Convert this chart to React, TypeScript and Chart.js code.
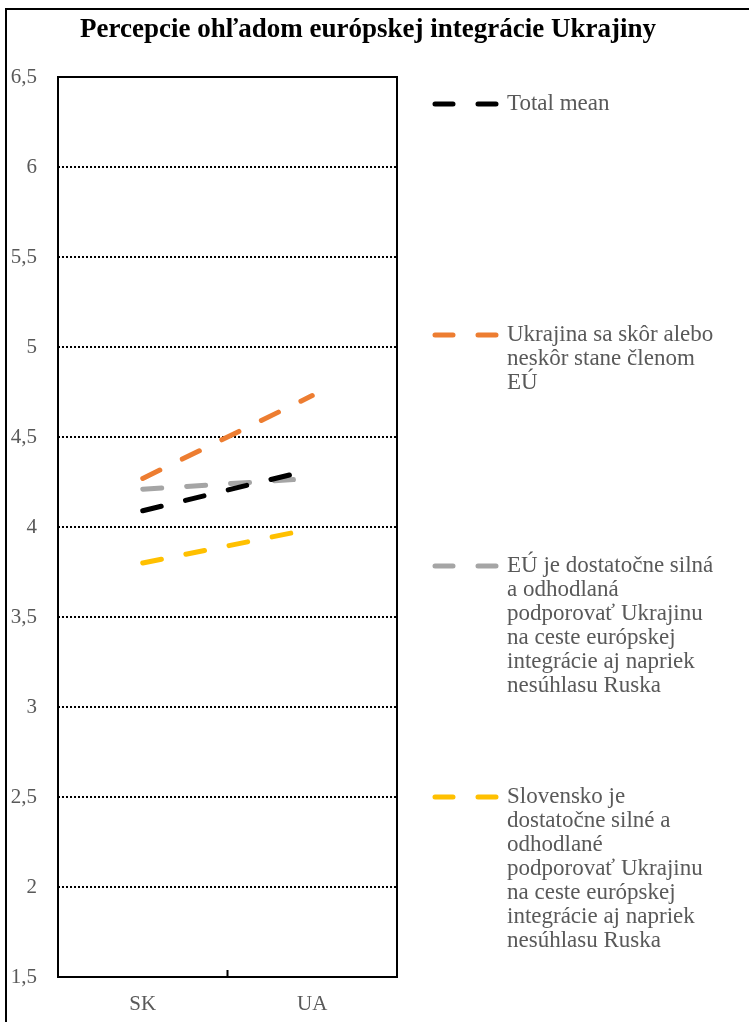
import React, { useEffect, useRef } from "react";
import { Chart, registerables } from "chart.js";

Chart.register(...registerables);

const title = "Percepcie ohľadom európskej integrácie Ukrajiny";
const categories = ["SK", "UA"];
const totalMean = [4.09, 4.32];
const ukraineMember = [4.27, 4.73];
const euStrong = [4.21, 4.27];
const slovakiaStrong = [3.8, 3.99];

const totalMeanName = ["Total mean"];
const ukraineMemberName = ["Ukrajina sa skôr alebo", "neskôr stane členom", "EÚ"];
const euStrongName = [
  "EÚ je dostatočne silná",
  "a odhodlaná",
  "podporovať Ukrajinu",
  "na ceste európskej",
  "integrácie aj napriek",
  "nesúhlasu Ruska",
];
const slovakiaStrongName = [
  "Slovensko je",
  "dostatočne silné a",
  "odhodlané",
  "podporovať Ukrajinu",
  "na ceste európskej",
  "integrácie aj napriek",
  "nesúhlasu Ruska",
];

const yMin = 1.5;
const yMax = 6.5;
const yStep = 0.5;

const FONT = "'Liberation Serif', 'DejaVu Serif', serif";
const TEXT_GRAY = "#595959";
const DASH = [19, 25];

export default function App() {
  const canvasRef = useRef<HTMLCanvasElement | null>(null);

  useEffect(() => {
    const canvas = canvasRef.current;
    if (!canvas) return;

    const series = [
      { name: totalMeanName, data: totalMean, color: "#000000" },
      { name: ukraineMemberName, data: ukraineMember, color: "#ED7D31" },
      { name: euStrongName, data: euStrong, color: "#A5A5A5" },
      { name: slovakiaStrongName, data: slovakiaStrong, color: "#FFC000" },
    ];

    const decorPlugin = {
      id: "decor",
      afterDraw(chart: any) {
        const { ctx, chartArea, scales } = chart;
        const { left, right, top, bottom } = chartArea;
        ctx.save();
        // plot frame
        ctx.strokeStyle = "#000";
        ctx.lineWidth = 2;
        ctx.setLineDash([]);
        ctx.strokeRect(left, top, right - left, bottom - top);
        // inner tick between categories
        const xs = scales.x;
        const mid = (xs.getPixelForTick(0) + xs.getPixelForTick(1)) / 2;
        ctx.beginPath();
        ctx.moveTo(mid, bottom);
        ctx.lineTo(mid, bottom - 7);
        ctx.stroke();
        // title
        ctx.fillStyle = "#000";
        ctx.font = `bold 27px ${FONT}`;
        ctx.textAlign = "center";
        ctx.textBaseline = "middle";
        ctx.fillText(title, 361, 20);
        // legend
        const lx0 = 428;
        const lx1 = 491;
        const tx = 500;
        const firstY = 94;
        const itemGap = 231;
        const lineH = 24;
        ctx.textAlign = "left";
        ctx.font = `23px ${FONT}`;
        chart.data.datasets.forEach((ds: any, i: number) => {
          const y = firstY + i * itemGap;
          ctx.strokeStyle = ds.borderColor;
          ctx.lineWidth = 5;
          ctx.lineCap = "round";
          ctx.setLineDash([18, 25]);
          ctx.beginPath();
          ctx.moveTo(lx0, y);
          ctx.lineTo(lx1, y);
          ctx.stroke();
          ctx.setLineDash([]);
          ctx.fillStyle = TEXT_GRAY;
          (ds.legendLines as string[]).forEach((line, j) => {
            ctx.fillText(line, tx, y + j * lineH);
          });
        });
        ctx.restore();
      },
    };

    const chart = new Chart(canvas, {
      type: "line",
      data: {
        labels: categories,
        datasets: series.map((s) => ({
          label: s.name.join(" "),
          legendLines: s.name,
          data: s.data,
          borderColor: s.color,
          backgroundColor: s.color,
          borderWidth: 5,
          borderDash: DASH,
          borderCapStyle: "round",
          pointRadius: 0,
          tension: 0,
          fill: false,
        })) as any,
      },
      options: {
        animation: false,
        responsive: false,
        maintainAspectRatio: false,
        layout: { padding: { top: 67, right: 352, bottom: 0, left: 0 } },
        plugins: {
          legend: { display: false },
          title: { display: false },
          tooltip: { enabled: false },
        },
        scales: {
          x: {
            type: "category",
            offset: true,
            grid: { display: false, drawTicks: false },
            border: { display: false },
            ticks: {
              color: TEXT_GRAY,
              padding: 15,
              font: { family: FONT, size: 21 },
            },
            afterFit(scale: any) {
              scale.height = 45;
            },
          },
          y: {
            min: yMin,
            max: yMax,
            grid: {
              drawTicks: false,
              lineWidth: 2,
              color: (c: any) =>
                c.tick && (c.tick.value === yMin || c.tick.value === yMax)
                  ? "rgba(0,0,0,0)"
                  : "#000",
            },
            border: { display: false, dash: [2, 2] },
            ticks: {
              stepSize: yStep,
              color: TEXT_GRAY,
              padding: 21,
              font: { family: FONT, size: 21 },
              callback: (v: any) => String(v).replace(".", ","),
            },
            afterFit(scale: any) {
              scale.width = 51;
            },
          },
        },
      },
      plugins: [decorPlugin],
    });

    return () => chart.destroy();
  }, []);

  return (
    <div
      style={{
        position: "absolute",
        left: 5,
        top: 8,
        width: 744,
        height: 1014,
        boxSizing: "border-box",
        borderLeft: "2px solid #000",
        borderTop: "2px solid #000",
        background: "#fff",
      }}
    >
      <canvas ref={canvasRef} width={742} height={1012} style={{ display: "block" }} />
    </div>
  );
}
